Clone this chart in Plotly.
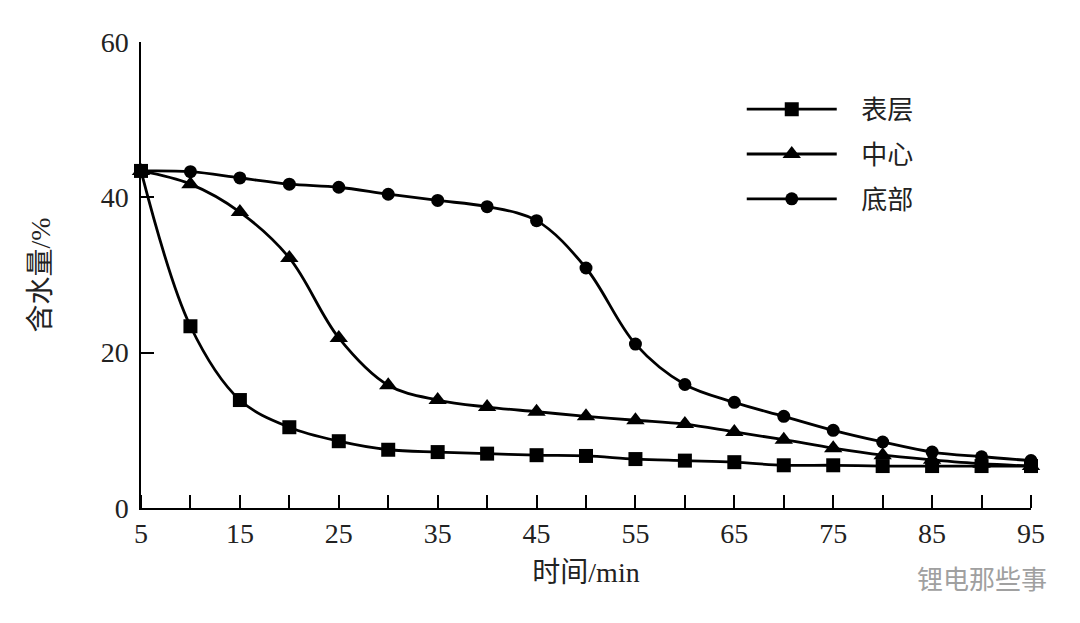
import plotly.graph_objects as go

# time (min)
time = [5, 10, 15, 20, 25, 30, 35, 40, 45, 50, 55, 60, 65, 70, 75, 80, 85, 90, 95]

# moisture content (%)
surface = [43.4, 23.4, 13.9, 10.4, 8.6, 7.5, 7.2, 7.0, 6.8, 6.7, 6.3, 6.1, 5.9,
           5.5, 5.5, 5.4, 5.4, 5.4, 5.4]
center = [43.4, 41.7, 38.1, 32.2, 21.9, 15.8, 13.9, 13.0, 12.4, 11.8, 11.3, 10.8,
          9.8, 8.8, 7.7, 6.8, 6.2, 5.7, 5.4]
bottom = [43.4, 43.3, 42.5, 41.7, 41.3, 40.4, 39.6, 38.8, 37.0, 30.9, 21.1, 15.9,
          13.6, 11.8, 10.0, 8.5, 7.2, 6.6, 6.1]

series_names = ["表层", "中心", "底部"]
x_tickvals = [5, 15, 25, 35, 45, 55, 65, 75, 85, 95]
y_tickvals = [0, 20, 40, 60]

serif = "Liberation Serif, Times New Roman, serif"
cjk = "Liberation Serif, Noto Sans CJK SC, serif"

fig = go.Figure()

styles = [("square", 14), ("triangle-up", 16), ("circle", 13)]
for name, vals, (sym, sz) in zip(series_names, [surface, center, bottom], styles):
    fig.add_trace(go.Scatter(
        x=time, y=vals, name="\u00a0\u00a0\u00a0" + name, legendgroup=name,
        mode="lines+markers",
        line=dict(color="black", width=2.8, shape="spline", smoothing=1),
        marker=dict(symbol=sym, size=sz, color="black"),
        cliponaxis=False,
    ))

fig.update_xaxes(
    range=[5, 95], tickvals=x_tickvals, ticktext=[str(v) for v in x_tickvals],
    minor=dict(dtick=5, tick0=5, ticks="inside", ticklen=13, tickcolor="black", tickwidth=1.5),
    ticks="", showgrid=False, zeroline=False, automargin=False,
    showline=True, linecolor="black", linewidth=1.5,
    tickfont=dict(family=serif, size=28, color="#222"),
    title=dict(text="时间/min", font=dict(family=cjk, size=28, color="#222"), standoff=14),
)
fig.update_yaxes(
    range=[0, 60], tickvals=y_tickvals,
    ticks="inside", ticklen=13, tickcolor="black", tickwidth=1.5,
    showgrid=False, zeroline=False, automargin=False, ticklabelstandoff=5,
    showline=True, linecolor="black", linewidth=1.5,
    tickfont=dict(family=serif, size=28, color="#222"),
    title=dict(text="含水量/%", font=dict(family=cjk, size=28, color="#222"), standoff=42),
)

fig.add_annotation(
    text="锂电那些事", xref="paper", yref="paper", x=1.02, y=-0.15,
    xanchor="right", yanchor="middle", showarrow=False,
    font=dict(family="Noto Sans CJK SC", size=26, color="#a0a0a0"),
)

# page body has an 8px offset, margins compensate so the plot area matches
fig.update_layout(
    width=1080, height=623,
    margin=dict(l=133, r=57, t=34, b=123),
    plot_bgcolor="white", paper_bgcolor="white",
    showlegend=True,
    legend=dict(
        x=0.675, y=0.906, xanchor="left", yanchor="top",
        font=dict(family=cjk, size=26, color="#222"),
        tracegroupgap=8, itemwidth=90, bgcolor="rgba(0,0,0,0)",
    ),
)

fig.write_html("out.html")
